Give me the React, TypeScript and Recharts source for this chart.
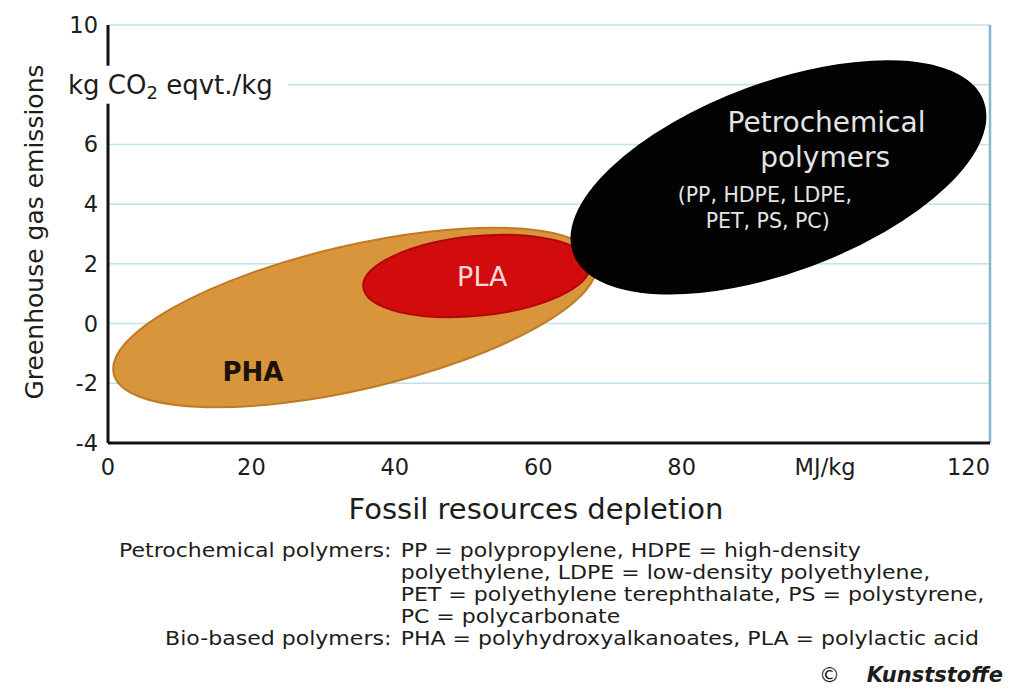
import React from "react";
import {
  CartesianGrid,
  ReferenceArea,
  ReferenceLine,
  Scatter,
  ScatterChart,
  XAxis,
  YAxis,
} from "recharts";

const FONT = "'DejaVu Sans', sans-serif";
const INK = "#1d1d1b";

// x: fossil resources depletion (MJ/kg), y: greenhouse gas emissions (kg CO2 eqvt./kg)
const xTicks = [0, 20, 40, 60, 80, 100, 120];
const xTickLabels = ["0", "20", "40", "60", "80", "MJ/kg", "120"];
const yTicks = [-4, -2, 0, 2, 4, 6, 8, 10];
const yTickLabels = ["-4", "-2", "0", "2", "4", "6", "kg CO2 eqvt./kg", "10"];

// each region is an ellipse stretched from its lower-left tip to its upper-right tip
const regionNames = ["PHA", "PLA", "Petrochemical polymers"];
const regionX1 = [0.8, 35.6, 65.0];
const regionY1 = [-1.68, 1.22, 2.35];
const regionX2 = [68.1, 67.2, 122.0];
const regionY2 = [2.09, 1.97, 7.44];
const regionThickness = [0.29, 0.35, 0.43]; // minor / major axis

// text inside the regions
const labelTexts = ["PHA", "PLA", "Petrochemical", "polymers", "(PP, HDPE, LDPE,", "PET, PS, PC)"];
const labelX = [20.2, 52.2, 100.2, 100.0, 91.6, 92.0];
const labelY = [-1.62, 1.56, 6.75, 5.55, 4.3, 3.45];

const regionStyle: Record<string, { fill: string; stroke: string }> = {
  PHA: { fill: "#d8953b", stroke: "#bf7a26" },
  PLA: { fill: "#d20c0c", stroke: "#b30606" },
  "Petrochemical polymers": { fill: "#030303", stroke: "#000" },
};

const labelStyle: Record<string, { fill: string; size: number; weight: number }> = {
  PHA: { fill: "#1a1208", size: 26, weight: 700 },
  PLA: { fill: "#ffd9d9", size: 27, weight: 400 },
  Petrochemical: { fill: "#e4e4e4", size: 28, weight: 400 },
  polymers: { fill: "#e4e4e4", size: 28, weight: 400 },
  "(PP, HDPE, LDPE,": { fill: "#e4e4e4", size: 20.5, weight: 400 },
  "PET, PS, PC)": { fill: "#e4e4e4", size: 20.5, weight: 400 },
};

const labelData = labelTexts.map((text, i) => ({ x: labelX[i], y: labelY[i], text }));

const footnotes = [
  ["Petrochemical polymers:", "PP = polypropylene, HDPE = high-density"],
  ["", "polyethylene, LDPE = low-density polyethylene,"],
  ["", "PET = polyethylene terephthalate, PS = polystyrene,"],
  ["", "PC = polycarbonate"],
  ["Bio-based polymers:", "PHA = polyhydroxyalkanoates, PLA = polylactic acid"],
];

const ellipseShape = (ratio: number, fill: string, stroke: string) => (props: any) => {
  const { x, y, width, height } = props;
  const cx = x + width / 2;
  const cy = y + height / 2;
  const a = Math.hypot(width, height) / 2;
  const angle = (-Math.atan2(height, width) * 180) / Math.PI;
  return (
    <ellipse
      cx={cx}
      cy={cy}
      rx={a}
      ry={a * ratio}
      transform={`rotate(${angle} ${cx} ${cy})`}
      fill={fill}
      stroke={stroke}
      strokeWidth={2}
    />
  );
};

const RegionLabel = (props: any) => {
  const { cx, cy, payload } = props;
  const s = labelStyle[payload.text];
  return (
    <text
      x={cx}
      y={cy}
      textAnchor="middle"
      dominantBaseline="central"
      fill={s.fill}
      fontSize={s.size}
      fontWeight={s.weight}
      fontFamily={FONT}
    >
      {payload.text}
    </text>
  );
};

const YTick = (props: any) => {
  const { x, y, payload } = props;
  const label = yTickLabels[yTicks.indexOf(payload.value)];
  if (payload.value === 8) {
    return (
      <g>
        <rect x={x - 40} y={y - 19} width={230} height={38} fill="#fff" />
        <text x={x - 30} y={y} dominantBaseline="central" fill={INK} fontSize={26} fontFamily={FONT}>
          kg CO
          <tspan dy={7} fontSize={18}>2</tspan>
          <tspan dy={-7}> eqvt./kg</tspan>
        </text>
      </g>
    );
  }
  return (
    <text x={x} y={y} textAnchor="end" dominantBaseline="central" fill={INK} fontSize={22.5} fontFamily={FONT}>
      {label}
    </text>
  );
};

const XTick = (props: any) => {
  const { x, y, payload } = props;
  const label = xTickLabels[xTicks.indexOf(payload.value)];
  return (
    <text x={x} y={y + 24} textAnchor="middle" dominantBaseline="central" fill={INK} fontSize={22.5} fontFamily={FONT}>
      {label}
    </text>
  );
};

export default function App() {
  return (
    <div style={{ position: "absolute", left: 0, top: 0, width: 1009, height: 698, background: "#fff", fontFamily: FONT, color: INK }}>
      <ScatterChart width={1009} height={530} margin={{ top: 25, right: 19, bottom: 7, left: 8 }}>
        <CartesianGrid horizontal vertical={false} stroke="#bfe2ec" strokeWidth={1.5} />
        <XAxis
          type="number"
          dataKey="x"
          domain={[0, 123]}
          ticks={xTicks}
          interval={0}
          height={80}
          tickLine={false}
          tickSize={0}
          tickMargin={0}
          tick={<XTick />}
          axisLine={{ stroke: "#111", strokeWidth: 3 }}
          label={{
            content: () => (
              <text x={536} y={509} textAnchor="middle" dominantBaseline="central" fill={INK} fontSize={29} fontFamily={FONT}>
                Fossil resources depletion
              </text>
            ),
          }}
        />
        <YAxis
          type="number"
          dataKey="y"
          domain={[-4, 10]}
          ticks={yTicks}
          interval={0}
          width={100}
          tickLine={false}
          tickSize={0}
          tickMargin={10}
          tick={<YTick />}
          axisLine={{ stroke: "#111", strokeWidth: 3 }}
          label={{
            content: () => (
              <text
                x={34}
                y={232}
                transform="rotate(-90 34 232)"
                textAnchor="middle"
                dominantBaseline="central"
                fill={INK}
                fontSize={25}
                fontFamily={FONT}
              >
                Greenhouse gas emissions
              </text>
            ),
          }}
        />
        <ReferenceLine x={123} stroke="#86b6cb" strokeWidth={2.5} />
        {regionNames.map((name, i) => (
          <ReferenceArea
            key={name}
            x1={regionX1[i]}
            y1={regionY1[i]}
            x2={regionX2[i]}
            y2={regionY2[i]}
            ifOverflow="visible"
            shape={ellipseShape(regionThickness[i], regionStyle[name].fill, regionStyle[name].stroke)}
          />
        ))}
        <Scatter data={labelData} shape={<RegionLabel />} isAnimationActive={false} />
      </ScatterChart>
      <div
        style={{
          position: "absolute",
          left: 0,
          top: 539,
          fontSize: 19,
          lineHeight: "22px",
          transform: "scaleX(1.16)",
          transformOrigin: "396px 0",
        }}
      >
        {footnotes.map(([head, body], i) => (
          <div key={i} style={{ display: "flex", whiteSpace: "nowrap" }}>
            <span style={{ width: 392, textAlign: "right", display: "inline-block" }}>{head}</span>
            <span style={{ marginLeft: 8 }}>{body}</span>
          </div>
        ))}
      </div>
      <div style={{ position: "absolute", right: 6, top: 663, fontSize: 21, lineHeight: "24px", whiteSpace: "nowrap" }}>
        ©&nbsp;&nbsp;&nbsp;&nbsp;<b style={{ fontStyle: "italic" }}>Kunststoffe</b>
      </div>
    </div>
  );
}
